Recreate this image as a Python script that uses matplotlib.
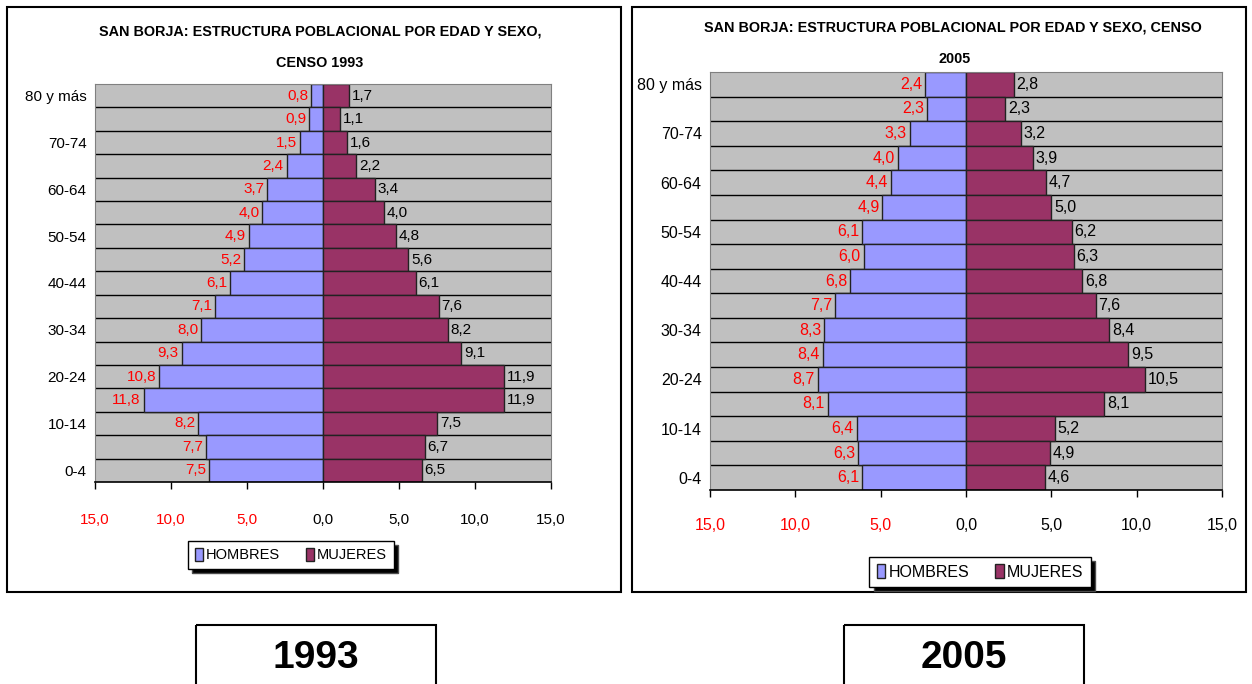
import numpy as np
import matplotlib.pyplot as plt
from matplotlib.patches import Rectangle, Patch

# data (top row of the pyramid first)
age_groups = ['80 y más', '75-79', '70-74', '65-69', '60-64', '55-59', '50-54',
              '45-49', '40-44', '35-39', '30-34', '25-29', '20-24', '15-19',
              '10-14', '5-9', '0-4']
hombres_1993 = [0.8, 0.9, 1.5, 2.4, 3.7, 4.0, 4.9, 5.2, 6.1, 7.1, 8.0, 9.3,
                10.8, 11.8, 8.2, 7.7, 7.5]
mujeres_1993 = [1.7, 1.1, 1.6, 2.2, 3.4, 4.0, 4.8, 5.6, 6.1, 7.6, 8.2, 9.1,
                11.9, 11.9, 7.5, 6.7, 6.5]
hombres_2005 = [2.4, 2.3, 3.3, 4.0, 4.4, 4.9, 6.1, 6.0, 6.8, 7.7, 8.3, 8.4,
                8.7, 8.1, 6.4, 6.3, 6.1]
mujeres_2005 = [2.8, 2.3, 3.2, 3.9, 4.7, 5.0, 6.2, 6.3, 6.8, 7.6, 8.4, 9.5,
                10.5, 8.1, 5.2, 4.9, 4.6]
x_ticks = [-15, -10, -5, 0, 5, 10, 15]

plt.rcParams['font.family'] = ['Liberation Sans', 'DejaVu Sans']

C_H = '#9999FF'
C_M = '#993366'
W, H = 1252, 684


def fmt(v):
    return f'{v:.1f}'.replace('.', ',')


def pyramid(ax, hombres, mujeres, tick_pad, fs):
    '''draws one excel style population pyramid'''
    n = len(age_groups)
    # bottom row is the youngest group
    y = np.arange(n)[::-1]
    hom = np.array(hombres)
    muj = np.array(mujeres)
    ax.set_facecolor('#C0C0C0')
    for k in range(n - 1):
        ax.axhline(k + 0.5, color='black', lw=1.0, zorder=1)
    ax.barh(y, -hom, height=1.0, color=C_H, edgecolor='#222222', lw=1.0,
            zorder=2)
    ax.barh(y, muj, height=1.0, color=C_M, edgecolor='#222222', lw=1.0,
            zorder=2)
    for yi, h, m in zip(y, hom, muj):
        ax.annotate(fmt(h), (-h, yi), xytext=(-2, 0),
                    textcoords='offset points', ha='right', va='center',
                    color='red', fontsize=fs, zorder=3)
        ax.annotate(fmt(m), (m, yi), xytext=(2, 0),
                    textcoords='offset points', ha='left', va='center',
                    color='black', fontsize=fs, zorder=3)
    ax.set_xlim(-15, 15)
    ax.set_ylim(-0.5, n - 0.5)
    ax.set_xticks(x_ticks)
    ax.set_xticklabels([fmt(abs(t)) for t in x_ticks], fontsize=fs)
    for lab, t in zip(ax.get_xticklabels(), x_ticks):
        if t < 0:
            lab.set_color('red')
    ax.tick_params(axis='x', direction='out', length=5, width=1,
                   pad=tick_pad)
    ax.set_yticks(y[::2])
    ax.set_yticklabels(age_groups[::2], fontsize=fs)
    ax.tick_params(axis='y', length=0, pad=6)
    for side in ['top', 'left', 'right']:
        ax.spines[side].set_color('#808080')
    ax.spines['bottom'].set_color('black')
    ax.spines['bottom'].set_linewidth(1.2)


fig = plt.figure(figsize=(W / 100, H / 100), dpi=100)

# frame layer in pixel coordinates
bg = fig.add_axes([0, 0, 1, 1])
bg.set_xlim(0, W)
bg.set_ylim(H, 0)
bg.axis('off')
bg.add_patch(Rectangle((7, 7), 614, 585, fill=False, ec='black', lw=1.5))
bg.add_patch(Rectangle((632, 7), 614, 585, fill=False, ec='black', lw=1.5))
bg.add_patch(Rectangle((196, 625), 240, 70, fill=False, ec='black', lw=1.5))
bg.add_patch(Rectangle((844, 625), 240, 70, fill=False, ec='black', lw=1.5))
bg.text(316, 658, '1993', ha='center', va='center', fontsize=28,
        fontweight='bold')
bg.text(964, 658, '2005', ha='center', va='center', fontsize=28,
        fontweight='bold')

bg.text(320, 32, 'SAN BORJA: ESTRUCTURA POBLACIONAL POR EDAD Y SEXO,',
        ha='center', va='center', fontsize=10.4, fontweight='bold')
bg.text(320, 63, 'CENSO 1993', ha='center', va='center', fontsize=10.4,
        fontweight='bold')
bg.text(953, 28, 'SAN BORJA: ESTRUCTURA POBLACIONAL POR EDAD Y SEXO, CENSO',
        ha='center', va='center', fontsize=10.4, fontweight='bold')
bg.text(955, 59, '2005', ha='center', va='center', fontsize=10.4,
        fontweight='bold')

ax1 = fig.add_axes([95 / W, 1 - 482 / H, 456 / W, 398 / H])
pyramid(ax1, hombres_1993, mujeres_1993, tick_pad=17, fs=11)
ax2 = fig.add_axes([710 / W, 1 - 490 / H, 512 / W, 418 / H])
pyramid(ax2, hombres_2005, mujeres_2005, tick_pad=15, fs=11.5)

handles = [Patch(facecolor=C_H, edgecolor='#222222', label='HOMBRES'),
           Patch(facecolor=C_M, edgecolor='#222222', label='MUJERES')]
for cx, cy, fs, cs in [(291, 555, 10.5, 1.8), (980, 572, 11.5, 1.6)]:
    leg = fig.legend(handles=handles, loc='center', ncol=2,
                     bbox_to_anchor=(cx / W, 1 - cy / H),
                     bbox_transform=fig.transFigure, fontsize=fs,
                     frameon=True, fancybox=False, framealpha=1,
                     edgecolor='black',
                     shadow={'ox': 3, 'oy': -3, 'facecolor': 'black',
                             'alpha': 1},
                     handlelength=0.55, handleheight=1.0, handletextpad=0.2,
                     columnspacing=cs, borderpad=0.45)
    leg.get_frame().set_linewidth(1.0)
    leg.set_zorder(5)

fig.savefig('out.png', dpi=100)
